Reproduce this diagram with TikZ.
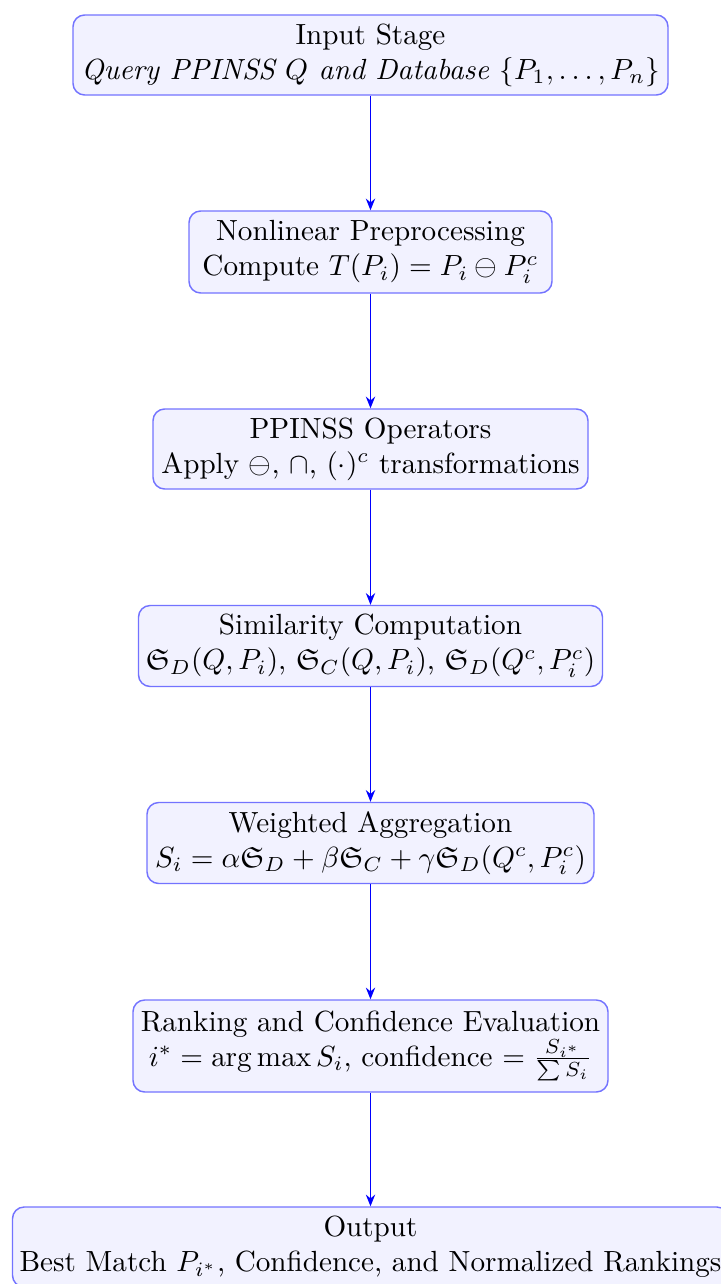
\documentclass[tikz,border=0pt]{standalone}
\usepackage{amsmath,amssymb}
\usetikzlibrary{arrows.meta}
\begin{document}
\begin{tikzpicture}[x=0.343pt,y=-0.343pt,
  box/.style={draw=blue!55, fill=blue!5, rounded corners=4pt, align=center, inner sep=0pt, line width=0.5pt},
  sz/.style 2 args={minimum width={#1*0.343pt}, minimum height={#2*0.343pt}},
  flow/.style={draw=blue, line width=0.5pt, -{Stealth[length=4pt,width=3.2pt]}}]
\useasboundingbox (0,0) rectangle (720,1284);
\node[box, sz={595}{80}] (n1) at (370.5,55) {Input Stage\\ \textit{Query PPINSS $Q$ and Database $\{P_1, \ldots, P_n\}$}};
\node[box, sz={363}{82}] (n2) at (370.5,252) {Nonlinear Preprocessing\\ Compute $T(P_i) = P_i \ominus P_i^c$};
\node[box, sz={435}{80}] (n3) at (370.5,449) {PPINSS Operators\\ Apply $\ominus$, $\cap$, $(\cdot)^c$ transformations};
\node[box, sz={464}{81}] (n4) at (370.5,646) {Similarity Computation\\ $\mathfrak{S}_D(Q,P_i)$, $\mathfrak{S}_C(Q,P_i)$, $\mathfrak{S}_D(Q^c,P_i^c)$};
\node[box, sz={447}{81}] (n5) at (370.5,843) {Weighted Aggregation\\ $S_i = \alpha\mathfrak{S}_D + \beta\mathfrak{S}_C + \gamma\mathfrak{S}_D(Q^c,P_i^c)$};
\node[box, sz={475}{92}] (n6) at (370.5,1046) {Ranking and Confidence Evaluation\\ $i^* = \arg\max S_i$, confidence $= \frac{S_{i^*}}{\sum S_i}$};
\node[box, sz={716}{80}] (n7) at (370.5,1247) {Output\\ Best Match $P_{i^*}$, Confidence, and Normalized Rankings};
\draw[flow] (n1) -- (n2);
\draw[flow] (n2) -- (n3);
\draw[flow] (n3) -- (n4);
\draw[flow] (n4) -- (n5);
\draw[flow] (n5) -- (n6);
\draw[flow] (n6) -- (n7);
\end{tikzpicture}
\end{document}
